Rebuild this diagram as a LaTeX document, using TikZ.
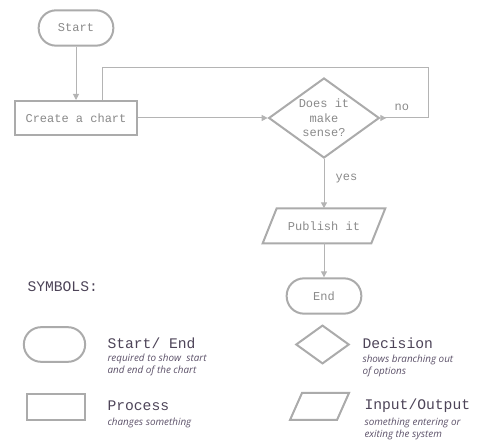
\documentclass[tikz,border=0pt]{standalone}
\usepackage{fontspec}
\setmonofont{Liberation Mono}
\newfontfamily\notefont{Open Sans}
\usepackage{xcolor}
\usetikzlibrary{positioning,shapes.geometric,arrows.meta}

\definecolor{shapegray}{HTML}{ABABAB}
\definecolor{linegray}{HTML}{B4B4B4}
\definecolor{textgray}{HTML}{8A8A8A}
\definecolor{titlepurple}{HTML}{4D4458}
\definecolor{notepurple}{HTML}{5B5068}

% parallelogram drawn round a node: #1 node name, #2 slant offset
\newcommand{\ioframe}[2]{%
    \draw[-, draw=shapegray, line width=1.5pt, line join=miter]
        ([xshift=-#2]#1.south west) -- ([xshift=#2]#1.north west)
        -- ([xshift=#2]#1.north east) -- ([xshift=-#2]#1.south east) -- cycle;}

\begin{document}
\begin{tikzpicture}[x=0.75pt,y=-0.75pt,
    ->,>={Triangle[length=4.5pt,width=4.5pt]},draw=linegray,line width=0.75pt]
    \tikzstyle{base}=[draw=shapegray, line width=1.5pt, fill=white, text=textgray,
        font=\ttfamily\fontsize{9}{11}\selectfont, inner sep=0pt]
    \tikzstyle{terminal}=[base, rounded corners=13pt, minimum width=56pt, minimum height=26.5pt]
    \tikzstyle{process}=[base, rectangle, minimum width=92pt, minimum height=25.5pt]
    \tikzstyle{decision}=[base, diamond, aspect=1.39, minimum width=83pt, minimum height=60pt, align=center]
    \tikzstyle{io}=[base, draw=none, fill=none, minimum width=80pt, minimum height=24.75pt]
    \tikzstyle{title}=[anchor=west, inner sep=0pt, text=titlepurple, font=\ttfamily\fontsize{11}{13}\selectfont]
    \tikzstyle{note}=[anchor=north west, inner sep=0pt, align=left, text=notepurple,
        font=\notefont\itshape\fontsize{7.4}{9}\selectfont]

    \useasboundingbox (0,0) rectangle (500,441);

    % Flow chart
    \node[terminal] (start) at (76,28) {Start};
    \node[process, below=40pt of start] (create) {Create a chart};
    \node[decision, right=97pt of create] (sense) {Does it\\make\\sense?};
    \node[io, below=37pt of sense] (publish) {Publish it};
    \ioframe{publish}{5.25pt}
    \node[terminal, below=25.5pt of publish] (end) {End};

    % Connections
    \draw (start) -- (create);
    \draw (create) -- (sense);
    \draw[{Triangle[reversed,length=4.5pt,width=4.5pt]}-] (sense.east) -- ++(36pt,0)
        node[pos=0.45, above=2pt, text=textgray, font=\ttfamily\fontsize{9}{11}\selectfont] {no}
        -- ++(0,38pt) -| ([xshift=20pt]create.north);
    \draw (sense) -- node[pos=0.4, right=5pt, text=textgray, font=\ttfamily\fontsize{9}{11}\selectfont] {yes} (publish);
    \draw (publish) -- (end);

    % Symbols
    \node[title] (symbols) at (27,287) {SYMBOLS:};

    \node[terminal, minimum width=46pt, minimum height=26pt] (kstart) at (54.5,344.5) {};
    \node[title] (tstart) at (107,343) {Start/ End};
    \node[note] at (107,354) {required to show\ \ start\\and end of the chart};

    \node[process, minimum width=43.5pt, minimum height=19.5pt] (kproc) at (56,407) {};
    \node[title] (tproc) at (107,406) {Process};
    \node[note] at (107,418) {changes something};

    \node[decision, minimum width=40pt, minimum height=29pt] (kdec) at (322.5,344.5) {};
    \node[title] (tdec) at (362,343) {Decision};
    \node[note] at (362,355) {shows branching out\\of options};

    \node[io, minimum width=33.75pt, minimum height=18.75pt] (kio) at (319.5,406.5) {};
    \ioframe{kio}{4.5pt}
    \node[title] (tio) at (364,406) {Input/Output};
    \node[note] at (364,418) {something entering or\\exiting the system};
\end{tikzpicture}
\end{document}
